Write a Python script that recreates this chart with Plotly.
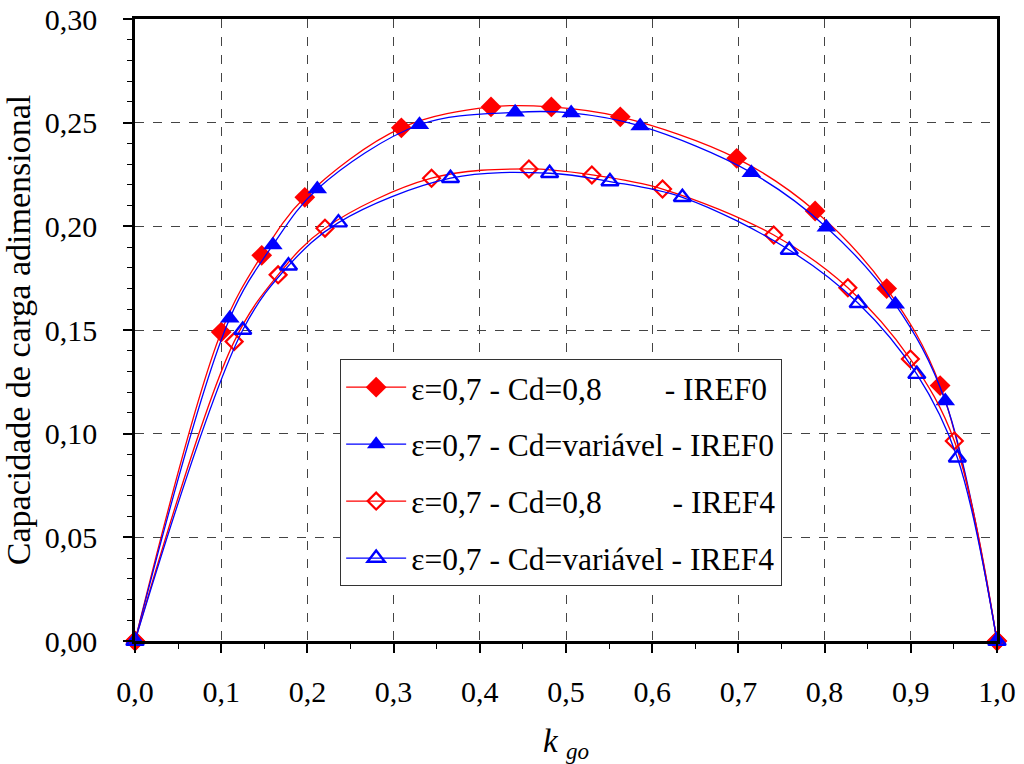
import plotly.graph_objects as go

# Series data
x_s1 = [0.0, 0.100, 0.147, 0.197, 0.309, 0.413, 0.483, 0.563, 0.698, 0.789, 0.872, 0.934, 1.0]
y_s1 = [0.0, 0.149, 0.186, 0.214, 0.2475, 0.2576, 0.2576, 0.2528, 0.2328, 0.2074, 0.170, 0.1232, 0.0]

x_s2 = [0.0, 0.110, 0.160, 0.2115, 0.330, 0.441, 0.506, 0.586, 0.715, 0.802, 0.882, 0.940, 1.0]
y_s2 = [0.0, 0.1557, 0.191, 0.218, 0.249, 0.255, 0.2547, 0.2484, 0.2259, 0.1996, 0.1624, 0.1158, 0.0]

x_s3 = [0.0, 0.115, 0.166, 0.2204, 0.344, 0.457, 0.530, 0.612, 0.741, 0.827, 0.8995, 0.9505, 1.0]
y_s3 = [0.0, 0.1444, 0.1766, 0.1991, 0.2232, 0.2277, 0.2248, 0.218, 0.1958, 0.1704, 0.136, 0.0965, 0.0]

x_s4 = [0.0, 0.125, 0.178, 0.236, 0.366, 0.481, 0.551, 0.635, 0.759, 0.839, 0.907, 0.954, 1.0]
y_s4 = [0.0, 0.150, 0.181, 0.2018, 0.2232, 0.2256, 0.2216, 0.214, 0.1886, 0.1629, 0.1287, 0.0884, 0.0]

names = [
    "ε=0,7 - Cd=0,8" + "\u00a0" * 8 + "- IREF0",
    "ε=0,7 - Cd=variável - IREF0",
    "ε=0,7 - Cd=0,8" + "\u00a0" * 9 + "- IREF4",
    "ε=0,7 - Cd=variável - IREF4",
]

x_ticks = [0.0, 0.1, 0.2, 0.3, 0.4, 0.5, 0.6, 0.7, 0.8, 0.9, 1.0]
y_ticks = [0.00, 0.05, 0.10, 0.15, 0.20, 0.25, 0.30]

RED = "#FF0000"
BLUE = "#0000FF"
FONT = "Liberation Serif"

fig = go.Figure()
series = [
    (x_s1, y_s1, RED, "diamond", 16, RED, 0),
    (x_s2, y_s2, BLUE, "triangle-up", 17, BLUE, 0),
    (x_s3, y_s3, RED, "diamond-open", 13, RED, 2.2),
    (x_s4, y_s4, BLUE, "triangle-up-open", 15, BLUE, 2.4),
]
for i, (xs, ys, col, sym, size, mcol, mlw) in enumerate(series):
    fig.add_trace(go.Scatter(
        x=xs, y=ys, mode="lines+markers", name=names[i],
        legendgroup=f"g{i}",
        line=dict(color=col, width=1.3, shape="spline", smoothing=1.0),
        marker=dict(symbol=sym, size=size, color=mcol, line=dict(color=mcol, width=mlw)),
        cliponaxis=False,
    ))

fig.update_layout(
    width=1024, height=764,
    margin=dict(l=135, r=27, t=19, b=123, autoexpand=False),
    paper_bgcolor="white", plot_bgcolor="white",
    separators=", ",
    font=dict(family=FONT, size=30, color="black"),
    showlegend=True,
    legend=dict(
        x=0.238, y=0.453, xanchor="left", yanchor="top",
        bgcolor="white", bordercolor="#333333", borderwidth=1,
        font=dict(family=FONT, size=31.5, color="black"),
        traceorder="grouped", tracegroupgap=13,
        itemwidth=60,
    ),
    xaxis=dict(
        range=[0, 1], tickvals=x_ticks, tickformat=".1f",
        automargin=False,
        showline=True, linecolor="black", linewidth=2.5, mirror=True,
        ticks="outside", ticklen=9, tickwidth=1.5, tickcolor="black",
        tickfont=dict(family=FONT, size=30, color="black"),
        showgrid=True, gridcolor="#444444", griddash="dash", gridwidth=1,
        minor=dict(dtick=0.05, ticks="outside", ticklen=5, tickwidth=1.2, tickcolor="black", showgrid=False),
        zeroline=False,
        ticklabelstandoff=13,
        title=dict(text="<i>k <sub>go</sub></i>", font=dict(family=FONT, size=33, color="black"), standoff=24),
    ),
    yaxis=dict(
        range=[0, 0.30], tickvals=y_ticks, tickformat=".2f",
        automargin=False,
        showline=True, linecolor="black", linewidth=2.5, mirror=True,
        ticks="outside", ticklen=9, tickwidth=1.5, tickcolor="black",
        tickfont=dict(family=FONT, size=30, color="black"),
        showgrid=True, gridcolor="#444444", griddash="dash", gridwidth=1,
        minor=dict(dtick=0.01, ticks="outside", ticklen=5, tickwidth=1.2, tickcolor="black", showgrid=False),
        zeroline=False,
        ticklabelstandoff=20,
        title=dict(text="Capacidade de carga adimensional\u00a0\u00a0",
                   font=dict(family=FONT, size=34, color="black"), standoff=8),
    ),
)

fig.write_html("out.html", config={"displayModeBar": False},
               post_script="document.body.style.margin='0';")
